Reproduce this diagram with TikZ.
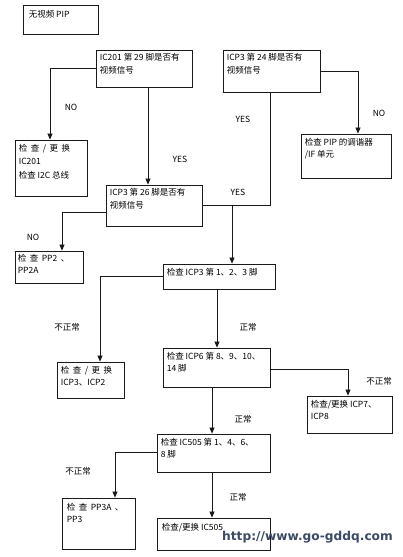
\documentclass[tikz,border=0pt]{standalone}
\usepackage{fontspec}
\setmainfont{Noto Sans CJK SC}
\newfontfamily\urlfont{DejaVu Sans}
\usetikzlibrary{arrows.meta,positioning}
\definecolor{linecol}{HTML}{1A1A1A}
\definecolor{urlcol}{HTML}{3C4A66}
\newcommand{\gap}{\hspace{3.5pt}}
\tikzset{
  flowbox/.style={draw=linecol, line width=0.8pt, inner sep=0pt},
  boxtext/.style={anchor=north west, align=left, inner sep=4pt,
    font=\fontsize{8.5}{12.5}\selectfont},
  arr/.style={-{Triangle[length=6pt,width=5pt]}, line width=0.7pt, draw=linecol},
  plain/.style={line width=0.7pt, draw=linecol},
  tag/.style={font=\fontsize{8.5}{10}\selectfont, inner sep=1pt}
}
\begin{document}
\begin{tikzpicture}[x=1pt, y=-1pt]
  \useasboundingbox (0,0) rectangle (402,557);
  % boxes
  \node[flowbox, minimum width=75pt, minimum height=29pt,
    label={[boxtext, inner sep=6pt]north west:{无视频 PIP}}] (start) at (60.5,19.5) {};
  \node[flowbox, minimum width=96pt, minimum height=37pt,
    label={[boxtext]north west:{IC201 第 29 脚是否有\\视频信号}}] (ic201) at (144,68.5) {};
  \node[flowbox, minimum width=97pt, minimum height=42pt,
    label={[boxtext]north west:{ICP3 第 24 脚是否有\\视频信号}}] (icp24) at (271.5,71) {};
  \node[flowbox, minimum width=72pt, minimum height=56pt,
    label={[boxtext, font=\fontsize{8.5}{13.5}\selectfont]north west:{检\gap 查\gap /\gap 更\gap 换\\IC201\\检查 I2C 总线}}] (chk201) at (51,168) {};
  \node[flowbox, minimum width=90pt, minimum height=44pt,
    label={[boxtext]north west:{检查 PIP 的调谐器\\/IF 单元}}] (tuner) at (346,156) {};
  \node[flowbox, minimum width=96pt, minimum height=41pt,
    label={[boxtext]north west:{ICP3 第 26 脚是否有\\视频信号}}] (icp26) at (154,205.5) {};
  \node[flowbox, minimum width=68pt, minimum height=32pt,
    label={[boxtext, inner sep=3pt]north west:{检\gap 查\gap PP2\gap 、\\PP2A}}] (pp2) at (49,267) {};
  \node[flowbox, minimum width=112pt, minimum height=25pt,
    label={[boxtext]north west:{检查 ICP3 第 1、2、3 脚}}] (icp123) at (219,276.5) {};
  \node[flowbox, minimum width=67pt, minimum height=36pt,
    label={[boxtext]north west:{检\gap 查\gap /\gap 更\gap 换\\ICP3、ICP2}}] (icp3chk) at (90.5,380) {};
  \node[flowbox, minimum width=107pt, minimum height=39pt,
    label={[boxtext]north west:{检查 ICP6 第 8、9、10、\\14 脚}}] (icp6) at (216.5,367.5) {};
  \node[flowbox, minimum width=85pt, minimum height=37pt,
    label={[boxtext]north west:{检查/更换 ICP7、\\ICP8}}] (icp7) at (349.5,414.5) {};
  \node[flowbox, minimum width=113pt, minimum height=38pt,
    label={[boxtext]north west:{检查 IC505 第 1、4、6、\\8 脚}}] (ic505) at (213.5,453) {};
  \node[flowbox, minimum width=73pt, minimum height=51pt,
    label={[boxtext, inner sep=5pt]north west:{检\gap 查\gap PP3A\gap 、\\PP3}}] (pp3) at (98.5,523.5) {};
  \node[flowbox, minimum width=113pt, minimum height=32pt,
    label={[boxtext, inner sep=5pt]north west:{检查/更换 IC505}}] (chk505) at (213.5,534) {};

  % connectors
  \draw[arr] (ic201.west) -| ([xshift=-1pt]chk201.north);
  \draw[arr] ([xshift=4pt]ic201.south) -- ([xshift=4pt]ic201.south |- icp26.north);
  \draw[arr] (icp24.east) -| ([xshift=12pt]tuner.north);
  \draw[plain] ([xshift=-1.5pt]icp24.south) |- (icp26.east);
  \coordinate (join) at ([xshift=13pt]icp123.north |- icp26.east);
  \draw[arr] (join) -- (join |- icp123.north);
  \draw[arr] ([yshift=-6.5pt]icp26.west) -| ([xshift=13pt]pp2.north);
  \draw[arr] (icp123.west) -| ([xshift=9.5pt]icp3chk.north);
  \draw[arr] ([xshift=-2pt]icp123.south) -- ([xshift=-2pt]icp123.south |- icp6.north);
  \draw[arr] ([yshift=-1.5pt]icp6.east) -| ([xshift=-1.5pt]icp7.north);
  \draw[arr] ([xshift=-4.5pt]icp6.south) -- ([xshift=-4.5pt]icp6.south |- ic505.north);
  \draw[arr] ([yshift=1pt]ic505.west) -| ([xshift=16.5pt]pp3.north);
  \draw[arr] ([xshift=-1.5pt]ic505.south) -- ([xshift=-1.5pt]ic505.south |- chk505.north);

  % branch labels
  \node[tag] (no1) at (71,107) {NO};
  \node[tag] (no2) at (379,113) {NO};
  \node[tag] (yes1) at (243,119) {YES};
  \node[tag] (yes2) at (180,159) {YES};
  \node[tag] (yes3) at (238,192) {YES};
  \node[tag] (no3) at (33,237) {NO};
  \node[tag] (bad1) at (67,327) {不正常};
  \node[tag] (ok1) at (248,327) {正常};
  \node[tag] (bad2) at (379,381) {不正常};
  \node[tag] (ok2) at (243,419) {正常};
  \node[tag] (bad3) at (78,471) {不正常};
  \node[tag] (ok3) at (238,497) {正常};

  % watermark
  \node[font=\urlfont\bfseries\fontsize{12.2}{13}\selectfont, text=urlcol, inner sep=0pt,
    anchor=base east] (url) at (393,540) {http://www.go-gddq.com};
\end{tikzpicture}
\end{document}
